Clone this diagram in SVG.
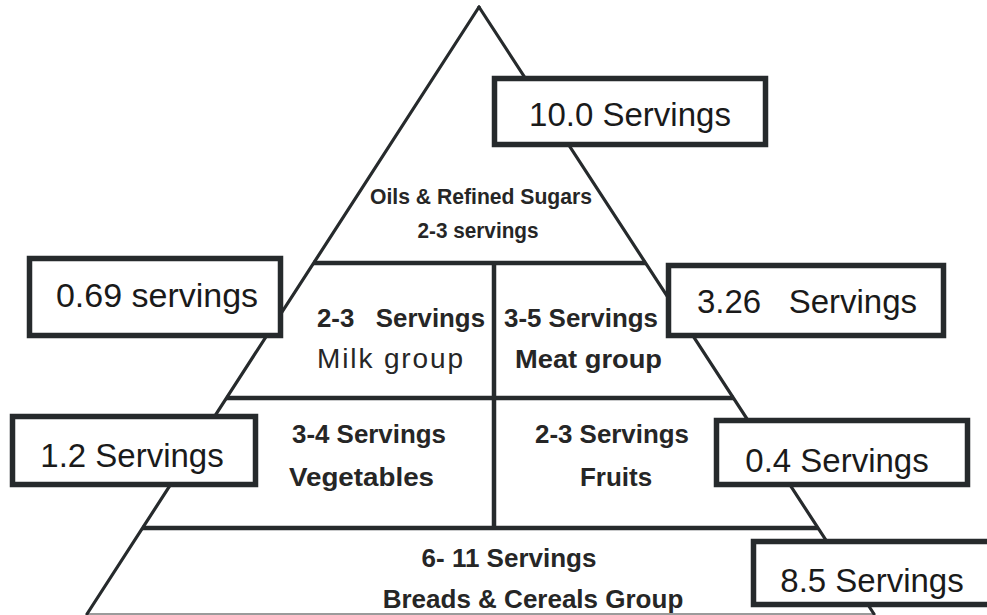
<svg xmlns="http://www.w3.org/2000/svg" width="987" height="615" viewBox="0 0 987 615">
  <style>
    .side { stroke: #262a2c; stroke-width: 3.2; fill: none; stroke-linecap: round; }
    .div { stroke: #262a2c; stroke-width: 4.5; fill: none; }
    .base { stroke: #7a7a7a; stroke-width: 1.6; fill: none; }
    .box { fill: #ffffff; stroke: #262a2c; stroke-width: 5.5; }
    .bt { font-family: "Liberation Sans", Arial, sans-serif; font-size: 33px; fill: #1a1a1a; text-anchor: middle; white-space: pre; }
    .lb { font-family: "Liberation Sans", Arial, sans-serif; font-size: 26px; font-weight: bold; fill: #262626; white-space: pre; }
    .ls { font-family: "Liberation Sans", Arial, sans-serif; font-size: 22px; font-weight: bold; fill: #262626; text-anchor: middle; }
    .lr { font-family: "Liberation Sans", Arial, sans-serif; font-size: 28px; fill: #262626; }
    .mid { text-anchor: middle; }
  </style>

  <g id="pyramid">
    <line class="base" x1="87" y1="614" x2="874" y2="614"/>
    <line class="side" x1="479" y1="7" x2="87" y2="614"/>
    <line class="side" x1="479" y1="7" x2="874" y2="614"/>
    <line class="div" x1="313" y1="263" x2="646" y2="263"/>
    <line class="div" x1="226" y1="398" x2="734" y2="398"/>
    <line class="div" x1="142" y1="528" x2="818" y2="528"/>
    <line class="div" x1="494" y1="263" x2="494" y2="528"/>
  </g>

  <g id="tier-oils">
    <text class="ls" x="481" y="204" textLength="222" lengthAdjust="spacingAndGlyphs">Oils &amp; Refined Sugars</text>
    <text class="ls" x="478" y="238" textLength="121" lengthAdjust="spacingAndGlyphs">2-3 servings</text>
  </g>

  <g id="tier-milk">
    <text class="lb" x="317" y="327" textLength="168" lengthAdjust="spacingAndGlyphs">2-3   Servings</text>
    <text class="lr" x="317" y="368" textLength="146" lengthAdjust="spacing">Milk group</text>
  </g>

  <g id="tier-meat">
    <text class="lb" x="504" y="327" textLength="154" lengthAdjust="spacingAndGlyphs">3-5 Servings</text>
    <text class="lb" x="515" y="368" textLength="147" lengthAdjust="spacingAndGlyphs">Meat group</text>
  </g>

  <g id="tier-vegetables">
    <text class="lb" x="292" y="443" textLength="154" lengthAdjust="spacingAndGlyphs">3-4 Servings</text>
    <text class="lb" x="289" y="486" textLength="145" lengthAdjust="spacingAndGlyphs">Vegetables</text>
  </g>

  <g id="tier-fruits">
    <text class="lb" x="535" y="443" textLength="154" lengthAdjust="spacingAndGlyphs">2-3 Servings</text>
    <text class="lb mid" x="616" y="486">Fruits</text>
  </g>

  <g id="tier-breads">
    <text class="lb mid" x="509" y="567">6- 11 Servings</text>
    <text class="lb mid" x="533" y="608">Breads &amp; Cereals Group</text>
  </g>

  <g id="box-oils">
    <rect class="box" x="494.5" y="78.5" width="271" height="66"/>
    <text class="bt" x="630" y="126">10.0 Servings</text>
  </g>

  <g id="box-milk">
    <rect class="box" x="29.5" y="258.5" width="251" height="77"/>
    <text class="bt" x="157" y="307" style="font-size:34px">0.69 servings</text>
  </g>

  <g id="box-meat">
    <rect class="box" x="668.5" y="265.5" width="275" height="70"/>
    <text class="bt" x="807" y="313">3.26   Servings</text>
  </g>

  <g id="box-vegetables">
    <rect class="box" x="12.5" y="416.5" width="243" height="68"/>
    <text class="bt" x="132" y="467">1.2 Servings</text>
  </g>

  <g id="box-fruits">
    <rect class="box" x="716.5" y="420.5" width="251" height="64"/>
    <text class="bt" x="837" y="472">0.4 Servings</text>
  </g>

  <g id="box-breads">
    <rect class="box" x="753.5" y="541.5" width="250" height="63"/>
    <text class="bt" x="872" y="592">8.5 Servings</text>
  </g>

  <g id="connectors"></g>
</svg>
